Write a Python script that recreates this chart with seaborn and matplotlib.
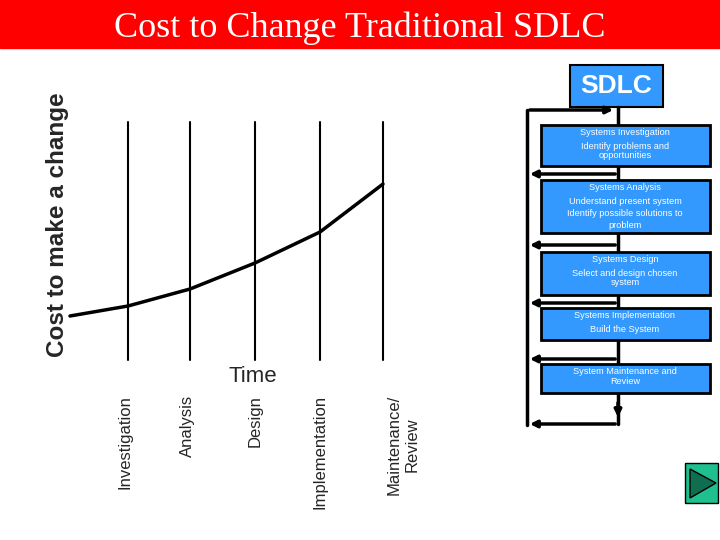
import matplotlib
matplotlib.use("Agg")
import matplotlib.pyplot as plt
import seaborn as sns
import pandas as pd
from matplotlib.patches import Rectangle, Polygon

sns.set_style("white")
plt.rcParams["font.family"] = ["Liberation Sans", "DejaVu Sans"]

# ---------------------------------------------------------
# Data
# ---------------------------------------------------------
phases = ["Investigation", "Analysis", "Design", "Implementation", "Maintenance/\nReview"]
phase_x = [128, 190, 255, 320, 383]
label_x = [125, 187, 255, 320, 403]
curve_x = [70, 128, 190, 255, 320, 383]
curve_cost = [316, 306, 289, 263, 232, 184]   # pixel height, lower = more cost

steps = [
    ("Systems Investigation", "Identify problems and\nopportunities"),
    ("Systems Analysis", "Understand present system\nIdentify possible solutions to\nproblem"),
    ("Systems Design", "Select and design chosen\nsystem"),
    ("Systems Implementation", "Build the System"),
    ("System Maintenance and\nReview", ""),
]
step_top = [125, 180, 252, 308, 364]
step_bot = [166, 233, 295, 340, 393]

fig = plt.figure(figsize=(7.2, 5.4), dpi=100)
ax = fig.add_axes([0, 0, 1, 1])
ax.set_xlim(0, 720)
ax.set_ylim(540, 0)
ax.axis("off")

blue = "#3399ff"

# title bar
ax.add_patch(Rectangle((0, 0), 720, 48, color="#ff0000"))
ax.text(360, 28, "Cost to Change Traditional SDLC", color="white", fontsize=26,
        family="Liberation Serif", ha="center", va="center")

# left chart
for x in phase_x:
    ax.plot([x, x], [122, 360], color="black", lw=1.5)
sns.lineplot(x=pd.Series(curve_x), y=pd.Series(curve_cost), ax=ax, color="black", lw=2.5)
ax.text(58, 225, "Cost to make a change", rotation=90, fontsize=17.5, fontweight="bold",
        ha="center", va="center")
ax.text(253, 376, "Time", fontsize=16, ha="center", va="center")
for name, x in zip(phases, label_x):
    ax.text(x, 395, name, rotation=90, fontsize=12, ha="center", va="top",
            multialignment="center")

# right flow diagram
ax.add_patch(Rectangle((570, 65), 93, 42, facecolor=blue, edgecolor="black", lw=1.5))
ax.text(616, 86, "SDLC", color="white", fontsize=19, fontweight="bold", ha="center", va="center")
ax.plot([618, 618], [107, 424], color="black", lw=2.5)
ax.plot([527, 527], [110, 425], color="black", lw=2.5)
for y in [174, 245, 303, 359]:
    ax.annotate("", xy=(527, y), xytext=(618, y),
                arrowprops=dict(arrowstyle="-|>", color="black", lw=2.5))
ax.annotate("", xy=(616, 110), xytext=(527, 110),
            arrowprops=dict(arrowstyle="-|>", color="black", lw=2.5))
ax.annotate("", xy=(527, 424), xytext=(618, 424),
            arrowprops=dict(arrowstyle="-|>", color="black", lw=2.5))
ax.annotate("", xy=(618, 420), xytext=(618, 400),
            arrowprops=dict(arrowstyle="-|>", color="black", lw=2.5))
for (head, body), t, b in zip(steps, step_top, step_bot):
    ax.add_patch(Rectangle((541, t), 169, b - t, facecolor=blue, edgecolor="black", lw=2, zorder=3))
    ax.text(625, t + 3, head, color="white", fontsize=6.6, ha="center", va="top",
            linespacing=1.1, zorder=4)
    if body:
        ax.text(625, t + 17, body, color="white", fontsize=6.6, ha="center", va="top",
                linespacing=1.4 if body.count("\n") == 2 else 1.05, zorder=4)

# green button
ax.add_patch(Rectangle((685, 463), 33, 40, facecolor="#1fbf8f", edgecolor="black", lw=1))
ax.add_patch(Polygon([[690, 469], [690, 498], [716, 483]], facecolor="#0e6e4e", edgecolor="black"))

fig.savefig("out.png", dpi=100)
